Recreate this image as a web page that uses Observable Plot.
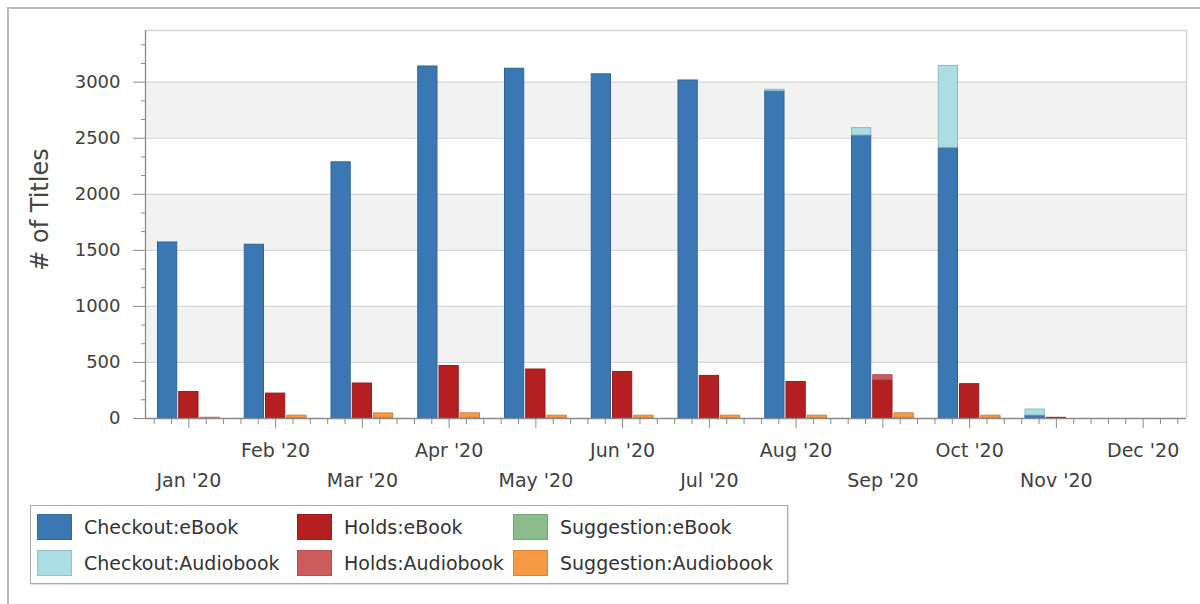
<!DOCTYPE html>
<html>
<head>
<meta charset="utf-8">
<script src="https://cdn.jsdelivr.net/npm/d3@7"></script>
<script src="https://cdn.jsdelivr.net/npm/@observablehq/plot@0.6"></script>
<style>
  html, body { margin: 0; padding: 0; background: #fff; }
  #wrap { position: relative; width: 1200px; height: 604px; overflow: hidden; font-family: "DejaVu Sans", sans-serif; }
  #frame { position: absolute; left: 7px; top: 7px; width: 1300px; height: 700px; border-top: 2px solid #b9b9b9; border-left: 2px solid #b9b9b9; }
  #chart { position: absolute; left: 0; top: 0; }
  #legend { position: absolute; left: 30px; top: 505px; width: 758px; height: 79px; box-sizing: border-box;
            border: 1px solid #ababab; box-shadow: 1px 1px 1px #e0e0e0; background: #fff;
            display: grid; grid-template-columns: 260px 216px auto; grid-auto-rows: 27px; row-gap: 9px;
            padding: 7px 0 0 6px; }
  .item { display: flex; align-items: center; font-size: 19px; color: #333; white-space: nowrap; }
  .sw { width: 35px; height: 26px; margin-right: 12px; box-sizing: border-box; flex: none; }
</style>
</head>
<body>
<div id="wrap">
  <div id="frame"></div>
  <div id="chart"></div>
  <div id="legend"></div>
</div>
<script>
// ---- data ----
const months = ["Jan '20", "Feb '20", "Mar '20", "Apr '20", "May '20", "Jun '20",
                "Jul '20", "Aug '20", "Sep '20", "Oct '20", "Nov '20", "Dec '20"];
const checkoutEbook   = [1570, 1550, 2285, 3140, 3120, 3070, 3015, 2920, 2525, 2415, 27, 0];
const checkoutAudio   = [0, 0, 0, 0, 0, 0, 0, 12, 65, 730, 53, 0];
const holdsEbook      = [237, 222, 312, 468, 437, 415, 380, 326, 341, 306, 6, 0];
const holdsAudio      = [0, 0, 0, 0, 0, 0, 0, 0, 45, 0, 0, 0];
const suggestionEbook = [2, 4, 6, 6, 4, 4, 4, 4, 6, 4, 0, 0];
const suggestionAudio = [5, 21, 39, 40, 21, 21, 21, 21, 40, 21, 0, 0];
const seriesNames = ["Checkout:eBook", "Holds:eBook", "Suggestion:eBook",
                     "Checkout:Audiobook", "Holds:Audiobook", "Suggestion:Audiobook"];
const seriesColors = {
  "Checkout:eBook": "#3b78b3", "Checkout:Audiobook": "#abdde4",
  "Holds:eBook": "#b41f22", "Holds:Audiobook": "#cd5d5d",
  "Suggestion:eBook": "#8cbc8c", "Suggestion:Audiobook": "#f69a45"
};
const yTicks = [0, 500, 1000, 1500, 2000, 2500, 3000];
const yTitle = "# of Titles";

// ---- build table ----
const groups = [
  {off: -0.245, series: [["Checkout:eBook", checkoutEbook], ["Checkout:Audiobook", checkoutAudio]]},
  {off: 0,      series: [["Holds:eBook", holdsEbook], ["Holds:Audiobook", holdsAudio]]},
  {off: 0.245,  series: [["Suggestion:eBook", suggestionEbook], ["Suggestion:Audiobook", suggestionAudio]]}
];
const bw = 0.222;
const rows = [];
for (const g of groups) {
  months.forEach((m, i) => {
    let base = 0;
    for (const [key, vals] of g.series) {
      const v = vals[i];
      if (v > 0) rows.push({key, month: m, x1: i + g.off - bw / 2, x2: i + g.off + bw / 2, y1: base, y2: base + v});
      base += v;
    }
  });
}
const idx = d3.range(months.length);
const yMax = 3461;
const xDomain = [-0.5, months.length - 0.5];
const minorX = d3.range(-2, months.length * 5 - 2).map(k => k / 5).filter(v => Math.abs(v - Math.round(v)) > 1e-9);
const minorY = d3.range(0, 3500, 500 / 3).map(v => Math.round(v)).filter(v => v % 500 !== 0 && v < yMax);
const bands = [];
for (let i = 1; i < yTicks.length; i += 2) bands.push({a: yTicks[i], b: yTicks[i + 1]});
const grid = yTicks.filter(v => v > 0);

const barMarks = Object.keys(seriesColors).map(key =>
  Plot.rect(rows.filter(r => r.key === key), {
    x1: "x1", x2: "x2", y1: "y1", y2: "y2",
    fill: seriesColors[key], stroke: d3.color(seriesColors[key]).darker(0.5).formatHex(), strokeWidth: 1
  })
);

const chart = Plot.plot({
  width: 1200, height: 500,
  marginLeft: 145, marginRight: 14, marginTop: 30, marginBottom: 82,
  style: {fontFamily: "DejaVu Sans, sans-serif", fontSize: "18px", color: "#404040", background: "transparent", overflow: "visible"},
  x: {type: "linear", domain: xDomain, axis: null},
  y: {domain: [0, yMax], axis: null},
  marks: [
    Plot.rectY(bands, {y1: "a", y2: "b", fill: "#f2f2f2"}),
    Plot.ruleY(grid, {stroke: "#d6d6d6", strokeWidth: 1.2}),
    Plot.ruleY([yMax], {stroke: "#d4d4d4", strokeWidth: 1.5}),
    Plot.ruleX([xDomain[1]], {stroke: "#d4d4d4", strokeWidth: 1.5}),
    ...barMarks,
    Plot.ruleX([xDomain[0]], {stroke: "#8a8a8a", strokeWidth: 1.3}),
    Plot.ruleY([0], {stroke: "#8a8a8a", strokeWidth: 1.3}),
    Plot.axisY(yTicks, {tickSize: 12, tickPadding: 13, fontSize: 18, tickFormat: d => String(d), stroke: "#8a8a8a", fill: "#404040"}),
    Plot.axisY(minorY, {tickSize: 4, tickFormat: () => "", stroke: "#8a8a8a"}),
    Plot.axisX(idx, {tickSize: 10, tickFormat: () => "", stroke: "#8a8a8a"}),
    Plot.axisX(minorX, {tickSize: 6, tickFormat: () => "", stroke: "#8a8a8a"}),
    Plot.text(idx.filter(i => i % 2 === 1), {x: d => d, text: d => months[d], frameAnchor: "bottom", dy: 32, lineAnchor: "middle", fontSize: 19, fill: "#404040"}),
    Plot.text(idx.filter(i => i % 2 === 0), {x: d => d, text: d => months[d], frameAnchor: "bottom", dy: 62, lineAnchor: "middle", fontSize: 19, fill: "#404040"}),
    Plot.text([yTitle], {frameAnchor: "left", dx: -105, dy: -15, rotate: -90, textAnchor: "middle", lineAnchor: "middle", fontSize: 24, fill: "#444"})
  ]
});
document.getElementById("chart").appendChild(chart);

// ---- legend ----
const legend = document.getElementById("legend");
for (const name of seriesNames) {
  const it = document.createElement("div");
  it.className = "item";
  const sw = document.createElement("span");
  sw.className = "sw";
  sw.style.background = seriesColors[name];
  sw.style.border = "1px solid " + d3.color(seriesColors[name]).darker(0.4).formatHex();
  const t = document.createElement("span");
  t.textContent = name;
  it.appendChild(sw); it.appendChild(t);
  legend.appendChild(it);
}
</script>
</body>
</html>
